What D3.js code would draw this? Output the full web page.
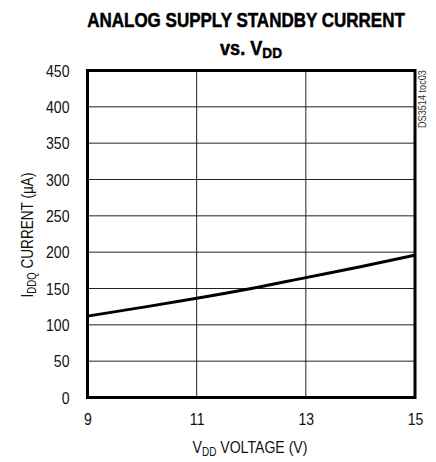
<!DOCTYPE html>
<html><head><meta charset="utf-8">
<script src="https://cdn.jsdelivr.net/npm/d3@7"></script>
<style>body{margin:0;background:#fff}</style>
</head><body>
<script>
const vdd = [9, 10, 11, 12, 13, 14, 15];
const iddq = [112, 124, 136.5, 150, 165, 180, 196];
const xTicks = [9, 11, 13, 15];
const yTicks = [0, 50, 100, 150, 200, 250, 300, 350, 400, 450];
const FONT = "'Liberation Sans','Arial',sans-serif";

const W = 436, H = 462;
const svg = d3.select("body").append("svg").attr("width", W).attr("height", H);
const x = d3.scaleLinear().domain([9, 15]).range([87.5, 415]);
const y = d3.scaleLinear().domain([0, 450]).range([397.5, 70.5]);

// place a text in a group translated to (cx,cy), rotated, and x-scaled to fit a target width
function fitted(cx, cy, rot, target) {
  const outer = svg.append("g").attr("transform", `translate(${cx},${cy}) rotate(${rot})`);
  const inner = outer.append("g");
  const t = inner.append("text");
  return { t, fit() {
    const w = t.node().getComputedTextLength();
    inner.attr("transform", `scale(${target / w},1)`);
  }};
}

// grid
const g = svg.append("g");
g.selectAll("line.h").data(yTicks.slice(1, -1)).join("line")
  .attr("x1", x(9)).attr("x2", x(15)).attr("y1", d => y(d)).attr("y2", d => y(d))
  .attr("stroke", "#222").attr("stroke-width", 1);
g.selectAll("line.v").data(xTicks.slice(1, -1)).join("line")
  .attr("y1", y(0)).attr("y2", y(450)).attr("x1", d => x(d)).attr("x2", d => x(d))
  .attr("stroke", "#222").attr("stroke-width", 1);

// data line
svg.append("path").datum(vdd.map((v, i) => [v, iddq[i]]))
  .attr("d", d3.line().x(d => x(d[0])).y(d => y(d[1])).curve(d3.curveMonotoneX))
  .attr("fill", "none").attr("stroke", "#000").attr("stroke-width", 3);

// frame
svg.append("rect").attr("x", x(9)).attr("y", y(450))
  .attr("width", x(15) - x(9)).attr("height", y(0) - y(450))
  .attr("fill", "none").attr("stroke", "#000").attr("stroke-width", 3);

// axes via d3
const yAxis = svg.append("g").attr("transform", `translate(${x(9) - 18},0)`)
  .call(d3.axisLeft(y).tickValues(yTicks).tickFormat(d3.format("d")).tickSize(0).tickPadding(0));
yAxis.select(".domain").remove();
yAxis.selectAll("text").attr("font-family", FONT).attr("font-size", 16).attr("fill", "#111")
  .attr("transform", "scale(0.88,1)").attr("dy", "0.36em");

const xAxis = svg.append("g").attr("transform", `translate(0,${y(0) + 16})`)
  .call(d3.axisBottom(x).tickValues(xTicks).tickFormat(d3.format("d")).tickSize(0).tickPadding(0));
xAxis.select(".domain").remove();
xAxis.selectAll("text").attr("font-family", FONT).attr("font-size", 16).attr("fill", "#111")
  .attr("transform", "scale(0.88,1)");

// title
const T1 = fitted(246, 27, 0, 318);
T1.t.attr("font-family", FONT).attr("font-weight", "bold").attr("font-size", 20)
  .attr("text-anchor", "middle").attr("stroke", "#000").attr("stroke-width", 0.5)
  .text("ANALOG SUPPLY STANDBY CURRENT");
T1.fit();
const T2 = fitted(251, 55, 0, 62);
T2.t.attr("font-family", FONT).attr("font-weight", "bold").attr("font-size", 20)
  .attr("text-anchor", "middle").attr("stroke", "#000").attr("stroke-width", 0.5);
T2.t.append("tspan").text("vs. V");
T2.t.append("tspan").attr("font-size", 15).attr("dy", 3).text("DD");
T2.fit();

// x title
const XT = fitted(250, 453, 0, 115);
XT.t.attr("font-family", FONT).attr("font-size", 17).attr("text-anchor", "middle").attr("fill", "#111");
XT.t.append("tspan").text("V");
XT.t.append("tspan").attr("font-size", 12).attr("dy", 3).text("DD");
XT.t.append("tspan").attr("dy", -3).text(" VOLTAGE (V)");
XT.fit();

// y title
const YT = fitted(33, 235, -90, 125);
YT.t.attr("font-family", FONT).attr("font-size", 17).attr("text-anchor", "middle").attr("fill", "#111");
YT.t.append("tspan").text("I");
YT.t.append("tspan").attr("font-size", 12).attr("dy", 3).text("DDQ");
YT.t.append("tspan").attr("dy", -3).text(" CURRENT (\u00B5A)");
YT.fit();

// side label
const SL = fitted(426, 128, -90, 58);
SL.t.attr("font-family", FONT).attr("font-size", 10).attr("fill", "#333").text("DS3514 toc03");
SL.fit();
</script>
</body></html>
